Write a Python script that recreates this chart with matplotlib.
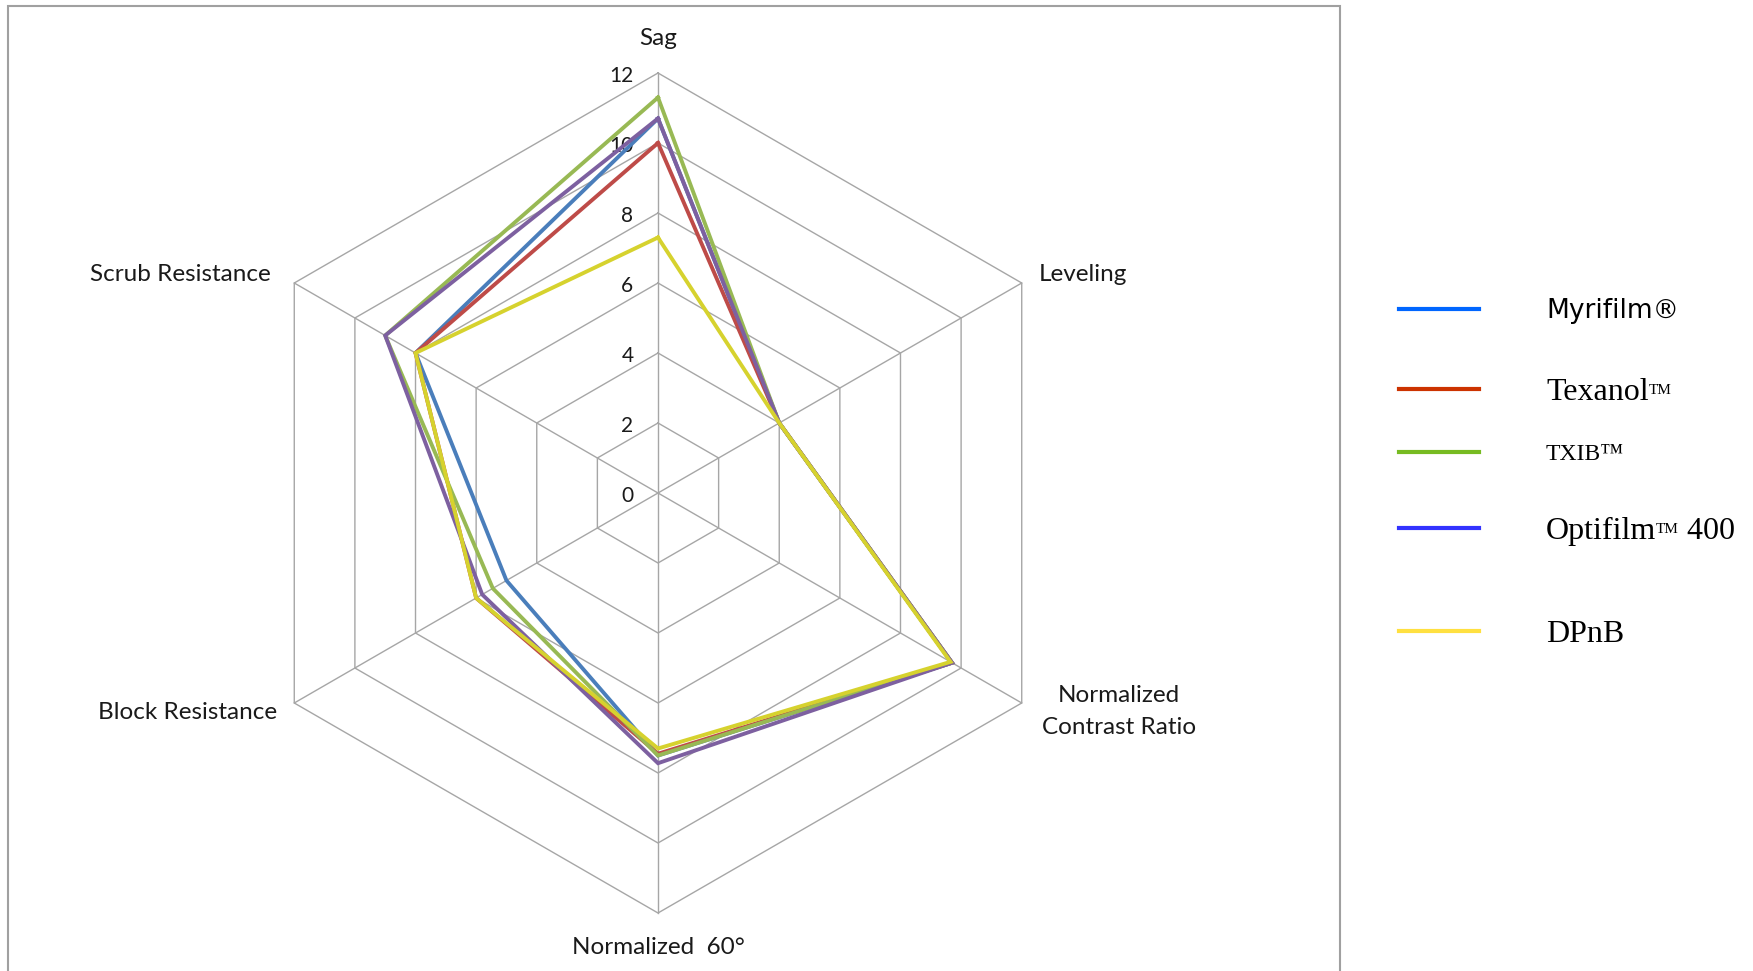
import numpy as np
import matplotlib.pyplot as plt
from matplotlib.lines import Line2D
from matplotlib.patches import Rectangle

# axes of the radar, clockwise from the top
categories = ['Sag', 'Leveling', 'Normalized\nContrast Ratio', 'Normalized  60°',
              'Block Resistance', 'Scrub Resistance']
ticks = [0, 2, 4, 6, 8, 10, 12]

myrifilm = [10.7, 4.0, 9.7, 7.5, 5.0, 8.0]
texanol = [10.0, 4.0, 9.7, 7.45, 6.0, 8.0]
txib = [11.3, 4.0, 9.7, 7.5, 5.45, 9.0]
optifilm = [10.7, 4.0, 9.7, 7.72, 5.8, 9.0]
dpnb = [7.3, 4.0, 9.65, 7.3, 6.0, 8.0]

series = [myrifilm, texanol, txib, optifilm, dpnb]
line_colors = ['#4A7EBB', '#BE4B48', '#98B954', '#7D60A0', '#D6D22E']

legend_colors = ['#0066FF', '#CC3300', '#77BB22', '#3333FF', '#FFE040']
# each legend name is built from pieces: (text, family, size, raise in px)
legend_parts = [
    [('Myrifilm®', 'DejaVu Sans', 19, 0)],
    [('Texanol', 'Liberation Serif', 23, 0), ('TM', 'Liberation Serif', 11, 6)],
    [('TXIB™', 'Liberation Serif', 17, 0)],
    [('Optifilm', 'Liberation Serif', 23, 0), ('TM', 'Liberation Serif', 11, 6),
     (' 400', 'Liberation Serif', 23, 0)],
    [('DPnB', 'Liberation Serif', 23, 0)],
]

W, H = 1753, 971
fig = plt.figure(figsize=(W / 100, H / 100), dpi=100)
ax = fig.add_axes([0, 0, 1, 1])
ax.set_axis_off()

# centre of the web sits at (658, 493) px, 35 px per unit
cx, cy, s = 658, 493, 35.0
ax.set_xlim(-cx / s, (W - cx) / s)
ax.set_ylim(-(H - cy) / s, cy / s)

ang = np.deg2rad(90 - 60 * np.arange(6))
grid_c = '#A6A6A6'

# hexagonal gridlines and spokes
for t in ticks[1:]:
    hx = np.append(t * np.cos(ang), t * np.cos(ang[0]))
    hy = np.append(t * np.sin(ang), t * np.sin(ang[0]))
    ax.plot(hx, hy, color=grid_c, lw=1.0, zorder=1)
for a in ang:
    ax.plot([0, 12 * np.cos(a)], [0, 12 * np.sin(a)], color=grid_c, lw=1.0, zorder=1)

lab_font = 'Lato'
for t in ticks:
    ax.text(-0.7, t - 0.08, str(t), ha='right', va='center', fontsize=15,
            family=lab_font, color='#1a1a1a', zorder=2)

# the data
for vals, c in zip(series, line_colors):
    v = np.array(vals + vals[:1])
    a = np.append(ang, ang[0])
    ax.plot(v * np.cos(a), v * np.sin(a), color=c, lw=2.8, zorder=3,
            solid_joinstyle='miter')

# category labels
lab_pos = [(0, 12.98, 'center'), (10.89, 6.24, 'left'), (13.17, -6.24, 'center'),
           (0, -12.98, 'center'), (-13.43, -6.26, 'center'), (-13.66, 6.24, 'center')]
for name, (x, y, ha) in zip(categories, lab_pos):
    ax.text(x, y, name, ha=ha, va='center', fontsize=17.5, family=lab_font,
            color='#1a1a1a', linespacing=1.6, multialignment='center')

# chart frame
fig.patches.append(Rectangle((8 / W, -0.02), (1340 - 8) / W, 1 - 6 / H + 0.02,
                             transform=fig.transFigure, fill=False,
                             edgecolor='#A0A0A0', lw=1.5))

# legend drawn by hand
leg_y = [309, 389, 452, 528, 631]
renderer = fig.canvas.get_renderer()
for yy, parts, c in zip(leg_y, legend_parts, legend_colors):
    fy = 1 - yy / H
    fig.add_artist(Line2D([1399 / W, 1479 / W], [fy, fy], color=c, lw=3,
                          transform=fig.transFigure))
    base = yy + 0.66 * parts[0][2] * 100 / 72 / 2
    x = 1546
    for txt, fam, fs, up in parts:
        t = fig.text(x / W, 1 - (base - up) / H, txt, ha='left', va='baseline',
                     family=fam, fontsize=fs, color='black')
        x += t.get_window_extent(renderer).width

fig.savefig('out.png', dpi=100)
